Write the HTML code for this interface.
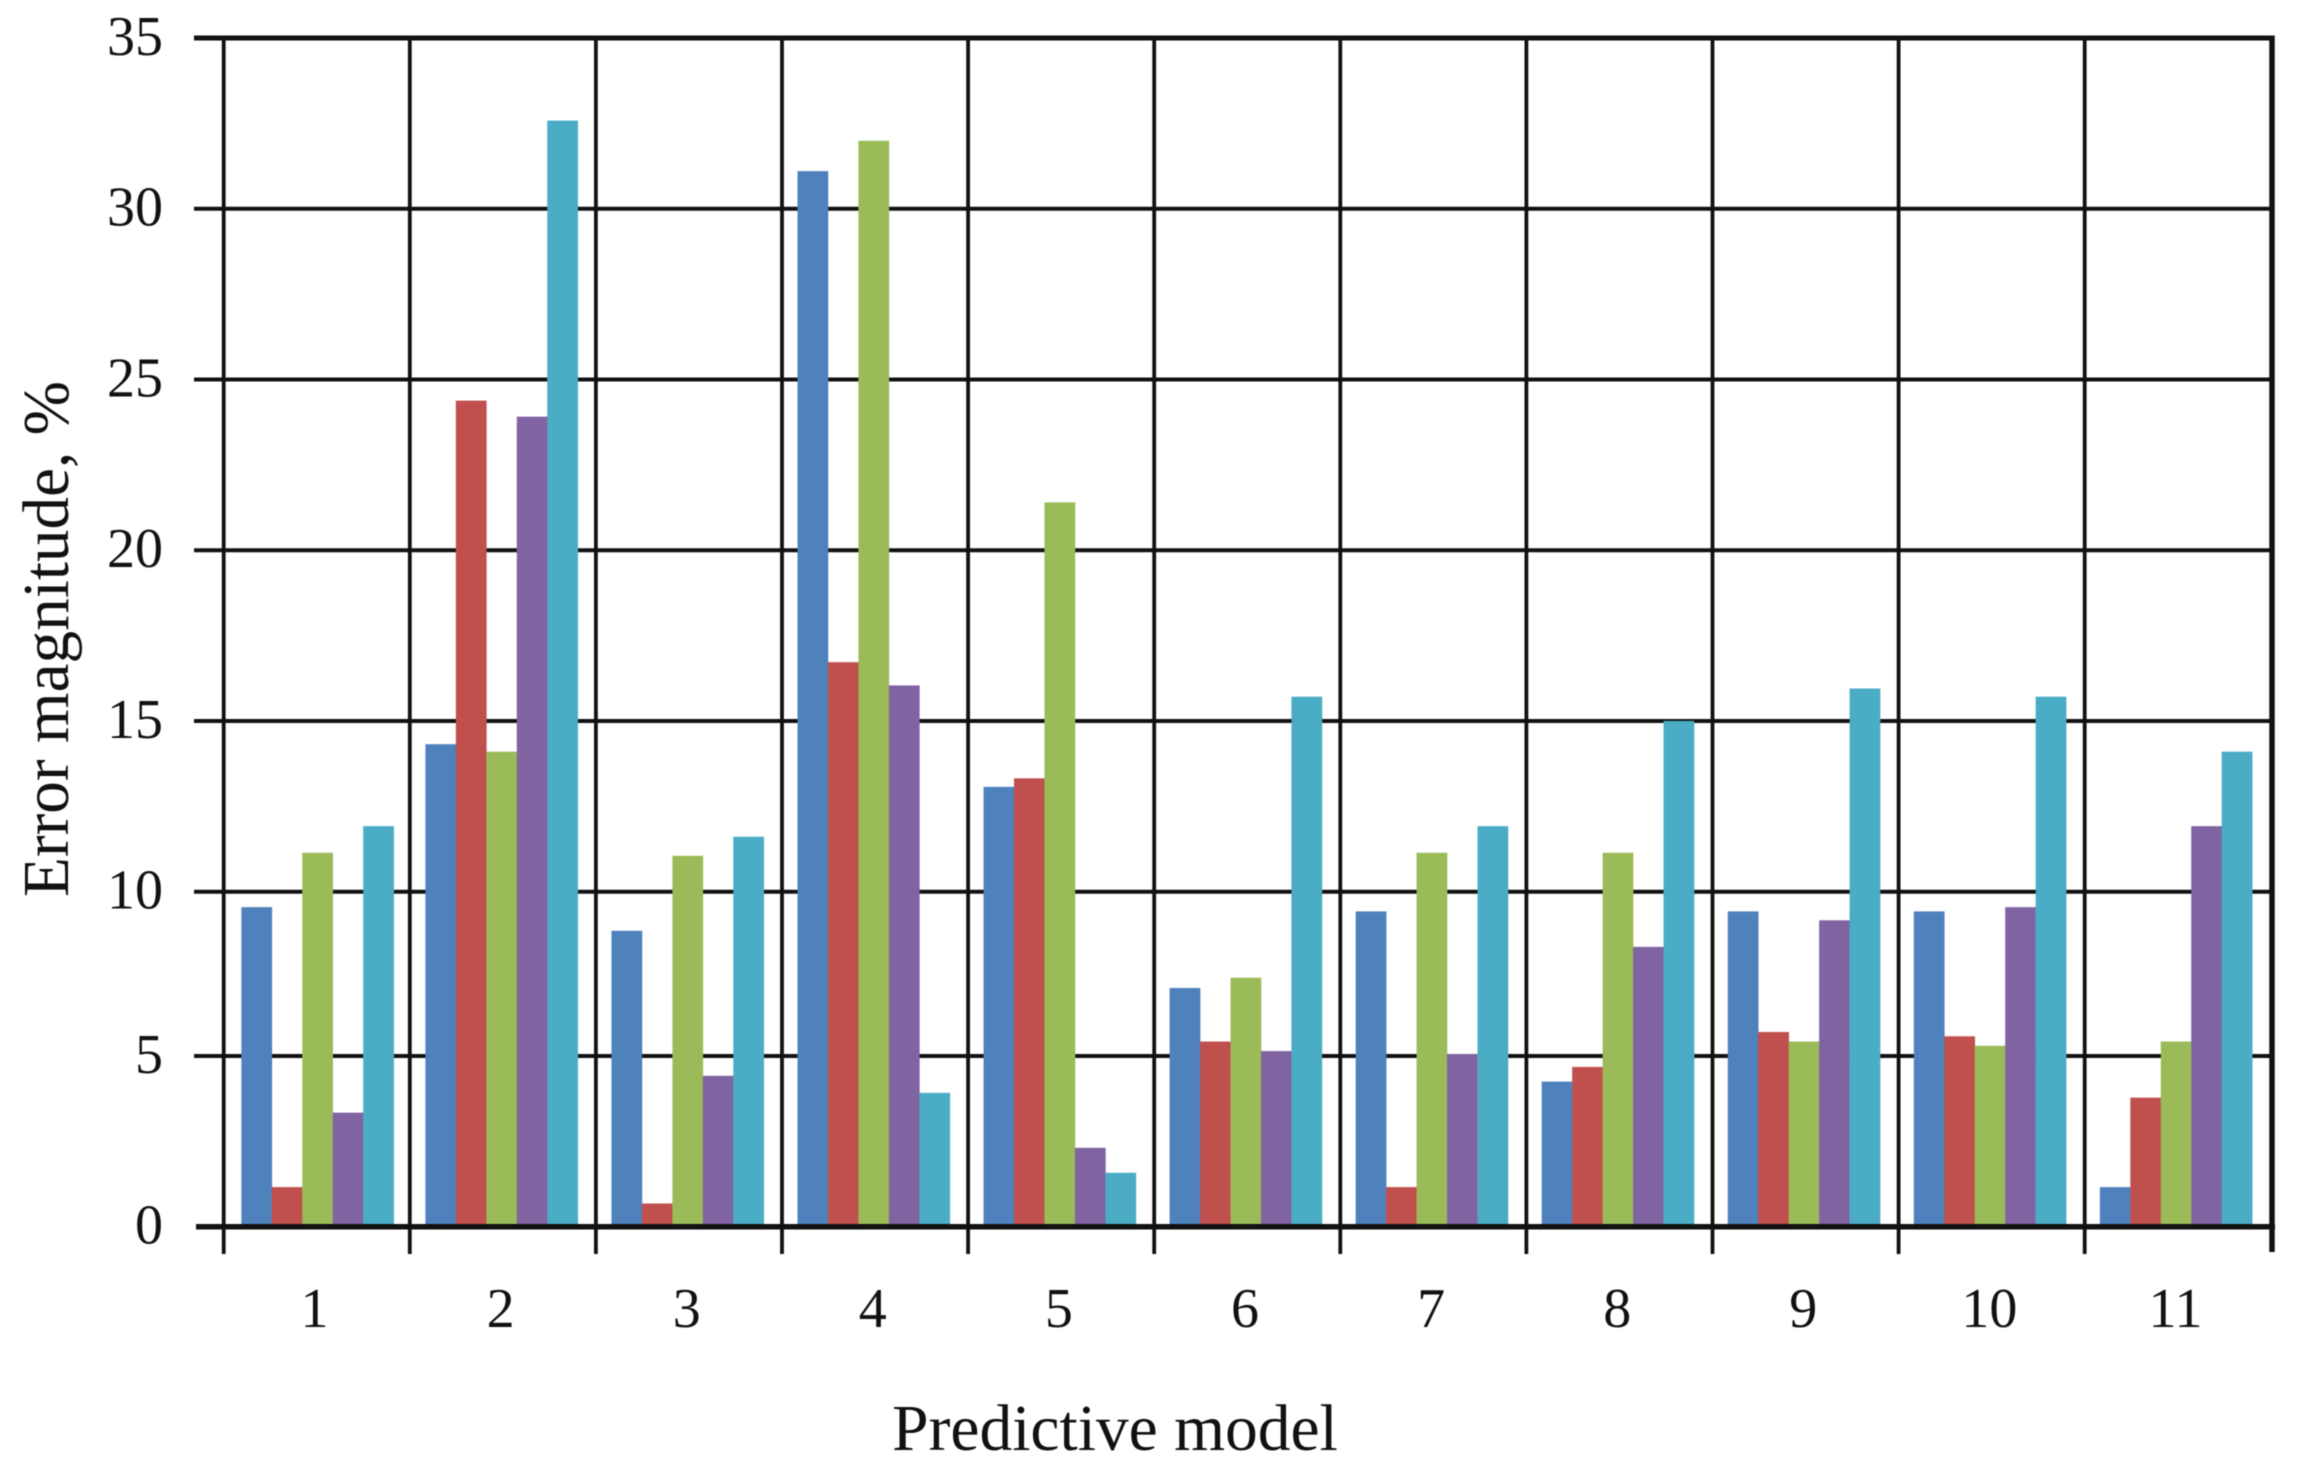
<!DOCTYPE html>
<html lang="en">
<head>
<meta charset="utf-8">
<title>Error magnitude by predictive model</title>
<style>
html,body{margin:0;padding:0;background:#fff;}
body{width:2299px;height:1470px;overflow:hidden;}
svg{display:block;filter:blur(.5px);}
text{font-family:"Liberation Serif",serif;fill:#111;}
</style>
</head>
<body>
<svg id="chart" xmlns="http://www.w3.org/2000/svg" width="2299" height="1470" viewBox="0 0 2299 1470">
<rect x="0" y="0" width="2299" height="1470" fill="#fff"/>
<g id="grid"></g>
<g id="bars"></g>
<g id="axes"></g>
<text x="1115" y="1450" font-size="65.5" text-anchor="middle">Predictive model</text>
<text transform="translate(68,639) rotate(-90)" font-size="65.2" text-anchor="middle">Error magnitude, %</text>
</svg>
<script>
const categories = ['1','2','3','4','5','6','7','8','9','10','11'];
const yTickValues = [0,5,10,15,20,25,30,35];
const seriesA = [9.53,14.32,8.81,31.10,13.07,7.07,9.40,4.25,9.40,9.40,1.16];
const seriesB = [1.16,24.38,0.68,16.72,13.32,5.44,1.16,4.68,5.73,5.60,3.78];
const seriesC = [11.14,14.10,11.05,31.99,21.40,7.38,11.14,11.14,5.44,5.31,5.44];
const seriesD = [3.34,23.91,4.42,16.04,2.31,5.15,5.06,8.32,9.13,9.53,11.92];
const seriesE = [11.92,32.58,11.61,3.92,1.58,15.71,11.92,15.0,15.95,15.71,14.10];
const allSeries = [seriesA, seriesB, seriesC, seriesD, seriesE];
const seriesColors = ['#4f81bd','#c0504d','#9bbb59','#8064a2','#4bacc6'];

const NS = 'http://www.w3.org/2000/svg';
// The printed axis is slightly uneven: its 5-to-10 interval is compressed.
function yScale(v) {
  if (v >= 10) return 891.7 - (v - 10) * 34.15;
  if (v >= 5) return 1056 - (v - 5) * 32.86;
  return 1226.7 - v * 34.14;
}
const tickX = i => 223.7 + i * 186.1;
const groupCenter = i => 315.5 + i * 186.05 + (i === 0 ? 2 : 0);
const labelCenter = i => 314.5 + i * 186.1;
const barW = 30.46;

function mk(parent, tag, attrs, txt) {
  const el = document.createElementNS(NS, tag);
  for (const k in attrs) el.setAttribute(k, attrs[k]);
  if (txt !== undefined) el.textContent = txt;
  parent.appendChild(el);
  return el;
}

const grid = document.getElementById('grid');
const bars = document.getElementById('bars');
const axes = document.getElementById('axes');
const right = tickX(categories.length) + 1.2;

yTickValues.forEach(v => {
  if (v === 0) return;
  const line = mk(grid, 'line', {x1:194, x2:right, y1:yScale(v), y2:yScale(v), stroke:'#111', 'stroke-width': v === 35 ? 5 : 4});
  
  
});
for (let i = 0; i < categories.length; i++) {
  const line = mk(grid, 'line', {x1:tickX(i), x2:tickX(i), y1:yScale(35), y2:1254, stroke:'#111', 'stroke-width':3.8});
  
  
}

categories.forEach((c, i) => {
  allSeries.forEach((s, k) => {
    const x = groupCenter(i) - 2.5 * barW + k * barW;
    const top = yScale(s[i]);
    const r = mk(bars, 'rect', {x:x, y:top, width:barW + 0.3, height:yScale(0) - top, fill:seriesColors[k]});
    
    
  });
});

const xAxis = mk(axes, 'line', {x1:196, x2:right + 3, y1:yScale(0), y2:yScale(0), stroke:'#111', 'stroke-width':5.5});



const rightEdge = mk(axes, 'line', {x1:right, x2:right, y1:yScale(35) - 2.5, y2:1252, stroke:'#111', 'stroke-width':5.5});



yTickValues.forEach(v => {
  const t = mk(axes, 'text', {x:163, y:yScale(v) + 17, 'font-size':56, 'text-anchor':'end'}, String(v));
  
  
});
categories.forEach((c, i) => {
  const t = mk(axes, 'text', {x:labelCenter(i), y:1327, 'font-size':56, 'text-anchor':'middle'}, c);
  
  
});
</script>
</body>
</html>
